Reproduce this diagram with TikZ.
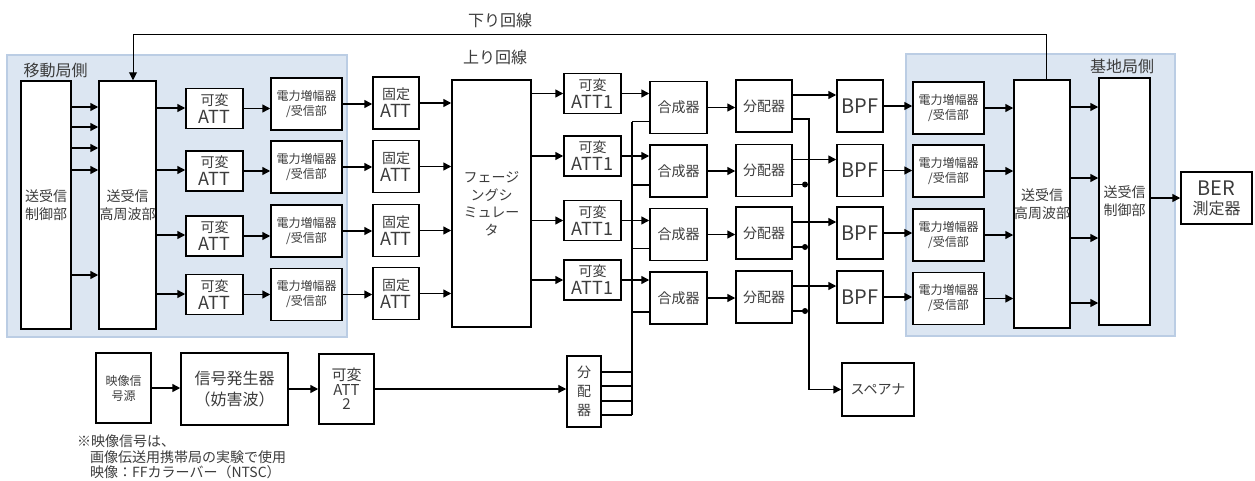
\documentclass[tikz,border=0pt]{standalone}
\usepackage{fontspec}
\setmainfont{Noto Sans CJK JP}
\usetikzlibrary{arrows.meta, positioning}

\definecolor{panelfill}{RGB}{220,230,242}
\definecolor{panelline}{RGB}{187,205,228}
\definecolor{txt}{RGB}{60,60,60}
\newcommand{\fs}[2]{\fontsize{#1}{#2}\selectfont}
\newcommand{\latn}[1]{{\fontsize{18}{18}\selectfont #1}}

\begin{document}
\begin{tikzpicture}[
    x=1pt, y=-1pt, % pixel grid, y downwards
    >={Triangle[length=8pt, width=8pt]}, % Default arrow tip
    box/.style={draw, line width=1.5pt, fill=white, text=txt, align=center,
        inner sep=0pt, font=\fs{14}{18}}, % Style for blocks
    sz/.style 2 args={minimum width=#1pt, minimum height=#2pt}, % Block size
    pa/.style={font=\fs{12}{15}}, % Smaller text for amplifier blocks
    sig/.style={->, line width=1.5pt}, % Style for signal arrows
    wire/.style={line width=1.5pt}, % Style for plain wires
    panel/.style={fill=panelfill, draw=panelline, line width=2.5pt}, % Station panels
    dot/.style={circle, fill=black, inner sep=0pt, minimum size=6pt}, % Junction dots
    title/.style={text=txt, font=\fs{16}{18}} % Style for panel and line labels
]
    \useasboundingbox (0,0) rectangle (1255,480);

    % Station panels
    \draw[panel] (7,55) rectangle (347,337);
    \draw[panel] (906,54) rectangle (1175,336);
    \node[title] (mlabel) at (55.5,70) {移動局側};
    \node[title] (blabel) at (1122,66) {基地局側};
    \node[title] (down) at (500,20) {下り回線};
    \node[title] (up) at (495,57) {上り回線};

    % Mobile station side
    \node[box, sz={50}{248}] (mctrl) at (46,205) {送受信\\制御部};
    \node[box, sz={57}{248}] (mrf) at (127.5,205) {送受信\\高周波部};
    \foreach \i/\ya/\yb/\yc in {1/108.5/104/103, 2/171/167/166.5, 3/236/231/230.5, 4/294.5/294.5/293.5} {
        \node[box, sz={57}{40}] (matt\i) at (214.5,\ya) {可変\\\latn{ATT}};
        \node[box, pa, sz={71}{52}] (mpa\i) at (306.5,\yb) {電力増幅器\\/受信部};
        \node[box, sz={46}{52}] (fatt\i) at (396,\yc) {固定\\\latn{ATT}};
    }

    % Fading simulator
    \node[box, sz={79}{247}, font=\fs{14}{17.5}] (fad) at (491.5,203.5) {フェージ\\ングシ\\ミュレー\\タ};

    % Combining / dividing rows and base station side
    \foreach \i/\ya/\yb/\yc/\yd in {1/93.5/107.5/106/108, 2/156/171/170.5/171, 3/220.5/234.5/233/235, 4/280/298/297/298.5} {
        \node[box, sz={57}{40}] (vatt\i) at (592.5,\ya) {可変\\\latn{ATT1}};
        \node[box, sz={57}{52}] (comb\i) at (678.5,\yb) {合成器};
        \node[box, sz={56}{52}] (div\i) at (764,\yc) {分配器};
        \node[box, sz={46}{52}] (bpf\i) at (860,\yc) {{\fontsize{20}{20}\selectfont BPF}};
        \node[box, pa, sz={71}{52}] (bpa\i) at (948.5,\yd) {電力増幅器\\/受信部};
    }
    \node[box, sz={56}{248}] (brf) at (1042,204) {送受信\\高周波部};
    \node[box, sz={51}{247}] (bctrl) at (1124.5,201.5) {送受信\\制御部};
    \node[box, sz={71}{52}, font=\fs{16}{19}] (ber) at (1216.5,198) {{\fontsize{20}{20}\selectfont BER}\\測定器};

    % Interference source chain
    \node[box, pa, sz={55}{70}] (src) at (123.5,388) {映像信\\号源};
    \node[box, sz={107}{72}, font=\fs{16}{21}] (gen) at (234.5,389) {信号発生器\\（妨害波）};
    \node[box, sz={55}{70}, font=\fs{15}{14.5}] (att2) at (346.5,389) {可変\\ATT\\2};
    \node[box, sz={34}{71}, font=\fs{14}{19}] (split) at (584,391.5) {分\\配\\器};
    \node[box, sz={72}{53}] (spec) at (878,389.5) {スペアナ};

    % Note
    \node[text=txt, align=left, anchor=north west, inner sep=0pt, font=\fs{14}{15.5}] (note) at (77,435)
        {※映像信号は、\\\hspace*{13pt}画像伝送用携帯局の実験で使用\\\hspace*{13pt}映像：FFカラーバー（NTSC）};

    % Mobile side arrows
    \foreach \y in {107,127,148,170,275}
        \draw[sig] (mctrl.east |- 0,\y) -- (mrf.west |- 0,\y);
    \foreach \i/\y in {1/108,2/170,3/235,4/294} {
        \draw[sig] (mrf.east |- 0,\y) -- (matt\i.west |- 0,\y);
        \draw[sig] (matt\i.east) -- (matt\i.east -| mpa\i.west);
        \draw[sig] (mpa\i.east) -- (mpa\i.east -| fatt\i.west);
        \draw[sig] (fatt\i.east) -- (fatt\i.east -| fad.west);
    }

    % Uplink arrows to base station
    \foreach \i/\y in {1/107,2/178,3/238,4/303} {
        \draw[sig] (fad.east |- vatt\i) -- (vatt\i.west);
        \draw[sig] (vatt\i.east) -- (vatt\i.east -| comb\i.west);
        \draw[sig] (comb\i.east) -- (comb\i.east -| div\i.west);
        \draw[sig] ([yshift=11pt]div\i.east) -- ([yshift=11pt]div\i.east -| bpf\i.west);
        \draw[sig] (bpf\i.east) -- (bpf\i.east -| bpa\i.west);
        \draw[sig] (bpa\i.east) -- (bpa\i.east -| brf.west);
        \draw[sig] (brf.east |- 0,\y) -- (bctrl.west |- 0,\y);
    }
    \draw[sig] (bctrl.east |- ber) -- (ber.west);

    % Downlink return line
    \draw[->, line width=1pt] ([xshift=4pt]brf.north) -- ++(0,-45) -| ([xshift=5.5pt]mrf.north);

    % Interference feed bus
    \coordinate (lbus) at (632,0);
    \draw[sig] (src.east) -- (src.east -| gen.west);
    \draw[sig] (gen.east) -- (gen.east -| att2.west);
    \draw[->, line width=1.2pt] (att2.east) -- (att2.east -| split.west);
    \foreach \y in {372,386,401,415}
        \draw[wire] (split.east |- 0,\y) -- (lbus |- 0,\y);
    \foreach \i in {1,...,4}
        \draw[wire] ([yshift=-14pt]comb\i.west) -- ([yshift=-14pt]comb\i.west -| lbus);
    \draw[wire] ([yshift=-14pt]comb1.west -| lbus) -- (lbus |- 0,415);

    % Monitor bus to spectrum analyser
    \coordinate (rbus) at (809,0);
    \draw[sig] ([yshift=-13pt]div1.east) -| (rbus |- spec.west) -- (spec.west);
    \foreach \i in {2,3,4}
        \draw[wire] ([yshift=-14pt]div\i.east) -- ([yshift=-14pt,xshift=-4pt]div\i.east -| rbus)
            node[dot] {};

\end{tikzpicture}
\end{document}
